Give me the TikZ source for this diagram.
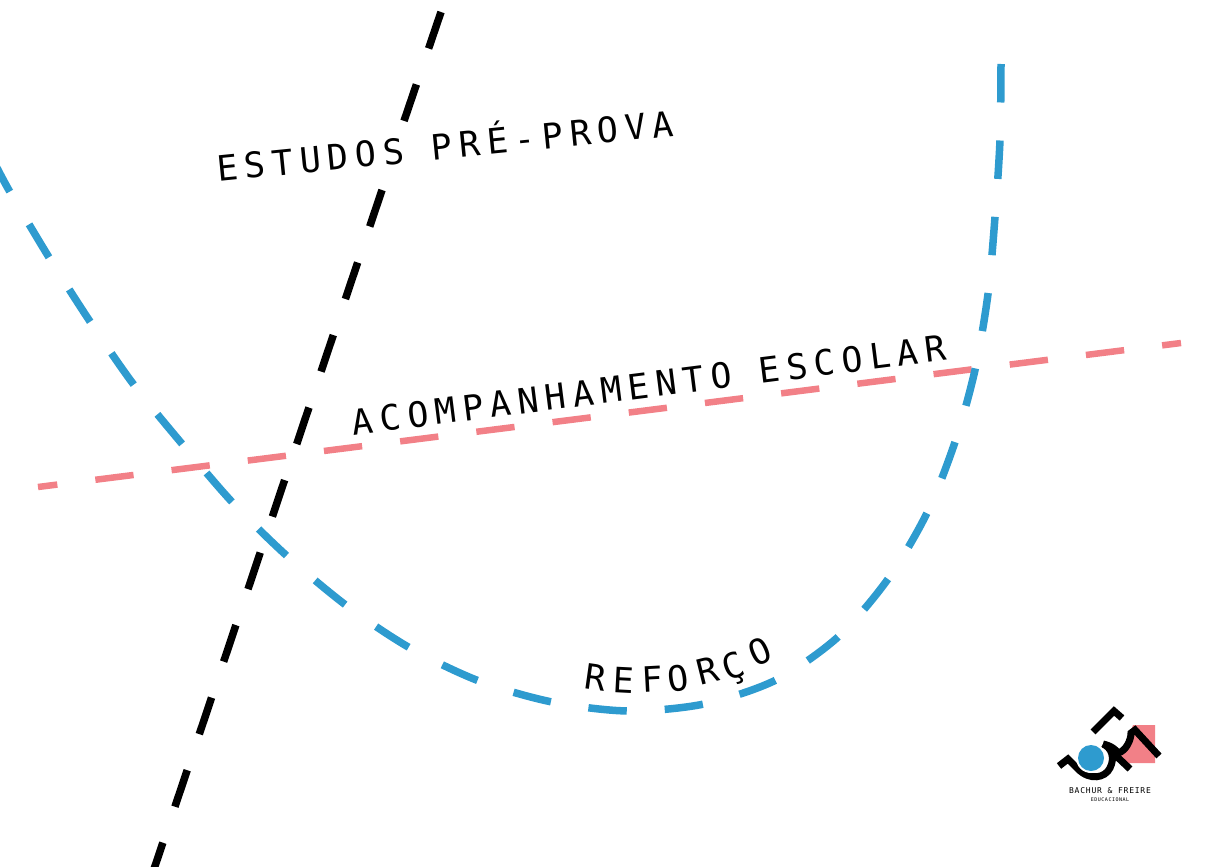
\documentclass[tikz,border=0pt]{standalone}
\usepackage{fontspec}
\newfontfamily\routefont[LetterSpace=19.2]{DejaVu Sans Mono}
\newfontfamily\logofont[LetterSpace=10]{DejaVu Sans Mono}
\begin{document}
\begin{tikzpicture}
  [x=1pt,y=-1pt,
   route/.style={line width=7.5pt,dash pattern=on 38.5pt off 38pt},
   routelabel/.style={inner sep=0pt,font=\routefont\fontsize{35}{35}\selectfont},
   logoline/.style={line width=7pt,black}]
  \useasboundingbox (0,0) rectangle (1219,867);
  \clip (0,0) rectangle (1219,867);

  \definecolor{routeblue}{HTML}{2E9BCF}
  \definecolor{routepink}{HTML}{F28087}

  \coordinate (blacktop) at (441,12);
  \coordinate (blackmid) at (404,121);
  \coordinate (blackrestart) at (382,190);
  \coordinate (blackend) at (151,878);
  \draw [route,black] (blacktop) -- (blackmid);
  \draw [route,black] (blackrestart) -- (blackend);

  \coordinate (pinkstart) at (38,487);
  \coordinate (pinkend) at (1181,343);
  \draw [route,routepink,line width=6.5pt,dash pattern=on 38.5pt off 38.3pt,dash phase=19pt] (pinkstart) -- (pinkend);

  \draw [route,routeblue] plot [smooth,tension=0.5] coordinates
    {(1001,64) (1000,140) (995,217) (988,294) (975,370) (955,442) (927,513)
     (888,579) (838,637) (776,680) (704,704) (628,711) (552,702) (479,681)
     (410,648) (347,606) (287,556) (233,503) (183,445) (134,385) (91,323)
     (50,259) (10,192) (-6,162)};

  \node [routelabel,rotate=5.7] (estudos) at (445,143) {ESTUDOS PRÉ-PROVA};
  \node [routelabel,rotate=7.2] (acompanhamento) at (649,385) {ACOMPANHAMENTO ESCOLAR};

  \foreach \i/\px/\py/\rot/\letter in {1/596/677/-8/R,2/624/680/-3/E,3/652/679/3/F,
    4/678/678/8/O,5/708/671/14/R,6/734/669/20/Ç,7/760/652/24/O}
    \node [routelabel,rotate=\rot] (reforco\i) at (\px,\py) {\letter};

  % logo
  \fill [routepink] (1133,725) -- (1155,725) -- (1155,763) -- (1128,763) -- (1116,753) -- (1126,745) -- cycle;
  \draw [logoline] (1093,732) -- (1114,711) -- (1122,718);
  \draw [logoline] (1059,766) -- (1068,759) -- (1078,769)
    .. controls (1090,781) and (1105,778) .. (1110,768)
    .. controls (1115,758) and (1112,748) .. (1103,744);
  \draw [logoline] (1103,744) .. controls (1112,746) and (1116,750) .. (1118,753)
    .. controls (1126,751) and (1131,740) .. (1131,733) -- (1135,730) -- (1159,756);
  \draw [logoline] (1112,752) -- (1130,769);
  \fill [white] (1091,758) circle (15);
  \fill [routeblue] (1091,758) circle (13);
  \node [inner sep=0pt,font=\logofont\fontsize{8}{8}\selectfont] (logoname) at (1110,791) {BACHUR \& FREIRE};
  \node [inner sep=0pt,font=\logofont\fontsize{5}{5}\selectfont] (logosub) at (1110,800) {EDUCACIONAL};
\end{tikzpicture}
\end{document}
